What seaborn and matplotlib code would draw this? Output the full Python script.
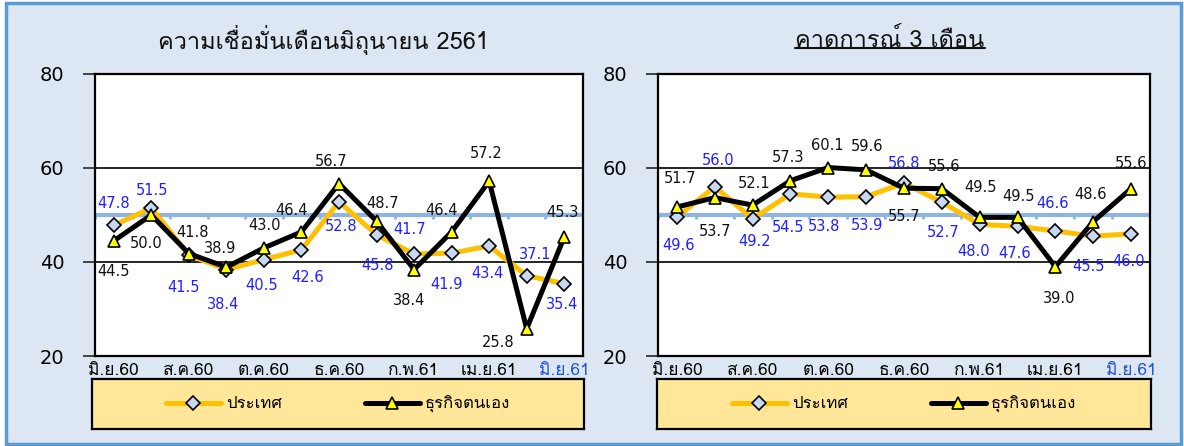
import matplotlib
matplotlib.use("Agg")
import matplotlib.pyplot as plt
import seaborn as sns
import pandas as pd
import numpy as np
from matplotlib import font_manager
from matplotlib.ft2font import FT2Font
from matplotlib.patches import Rectangle
from matplotlib.lines import Line2D

# data
months = ["มิ.ย.60", "ก.ค.60", "ส.ค.60", "ก.ย.60", "ต.ค.60", "พ.ย.60", "ธ.ค.60",
          "ม.ค.61", "ก.พ.61", "มี.ค.61", "เม.ย.61", "พ.ค.61", "มิ.ย.61"]
series_names = ["ประเทศ", "ธุรกิจตนเอง"]
titles = ["ความเชื่อมั่นเดือนมิถุนายน 2561", "คาดการณ์ 3 เดือน"]

now_country = [47.8, 51.5, 41.5, 38.4, 40.5, 42.6, 52.8, 45.8, 41.7, 41.9, 43.4, 37.1, 35.4]
now_business = [44.5, 50.0, 41.8, 38.9, 43.0, 46.4, 56.7, 48.7, 38.4, 46.4, 57.2, 25.8, 45.3]
fut_country = [49.6, 56.0, 49.2, 54.5, 53.8, 53.9, 56.8, 52.7, 48.0, 47.6, 46.6, 45.5, 46.0]
fut_business = [51.7, 53.7, 52.1, 57.3, 60.1, 59.6, 55.7, 55.6, 49.5, 49.5, 39.0, 48.6, 55.6]

# label offsets in pixels (x, y up)
now_country_off = [(0, 22), (1, 17), (-5, -33), (-3, -35), (-2, -26), (6, -28), (2, -25),
                   (1, -31), (-4, 25), (-5, -31), (-2, -27), (8, 21), (-2, -21)]
now_business_off = [(0, -31), (-5, -29), (4, 21), (-6, 19), (1, 22), (-10, 21), (-8, 22),
                    (6, 18), (-5, -31), (-10, 21), (-3, 28), (-29, -14), (-2, 25)]
fut_country_off = [(2, -29), (3, 26), (2, -23), (-2, -34), (-4, -29), (1, -29), (0, 20),
                   (1, -30), (-6, -27), (-3, -27), (-3, 27), (-5, -30), (-2, -28)]
fut_business_off = [(3, 29), (0, -34), (2, 22), (-2, 23), (-1, 22), (1, 23), (0, -28),
                    (2, 22), (1, 30), (1, 21), (4, -32), (-3, 27), (0, 25)]


def thai_font():
    for f in font_manager.fontManager.ttflist:
        try:
            if 0x0E01 in FT2Font(f.fname).get_charmap():
                return f.name
        except Exception:
            pass
    return "DejaVu Sans"


sns.set_theme(style="white")
thai = thai_font()
plt.rcParams["font.family"] = ["DejaVu Sans"]
plt.rcParams["text.color"] = "black"
thai_fam = [thai, "DejaVu Sans"]

BG = "#DDE7F3"
ORANGE = "#FFC000"
DIAMOND = "#C6D9F1"
BLUE_TXT = "#2020FF"
REF = "#8DB4E2"

fig = plt.figure(figsize=(11.84, 4.46), dpi=100)
fig.patch.set_facecolor("white")
fig.patches.append(Rectangle((6 / 1184, 2 / 446), 1175 / 1184, 441 / 446, transform=fig.transFigure,
                             facecolor=BG, edgecolor="#5B9BD5", lw=2.5, zorder=-10))

panels = [
    (now_country, now_business, now_country_off, now_business_off, 95, 583, 92, 323),
    (fut_country, fut_business, fut_country_off, fut_business_off, 658, 1150, 657, 890),
]

for i, (country, business, c_off, b_off, x0, x1, lx0, tx) in enumerate(panels):
    ax = fig.add_axes([x0 / 1184, 1 - 356 / 446, (x1 - x0) / 1184, 282 / 446])
    ax.set_facecolor("white")
    ax.set_zorder(2)
    df = pd.DataFrame({"idx": np.arange(len(months)), "country": country, "business": business})

    ax.axhline(50, color=REF, lw=3, zorder=1)
    ax.vlines(np.arange(len(months) + 1) - 0.5, 49.2, 50, color=REF, lw=2, zorder=1)
    for g in [40, 60]:
        ax.axhline(g, color="black", lw=1.2, zorder=0.5)

    sns.lineplot(data=df, x="idx", y="country", ax=ax, color=ORANGE, lw=3.6, marker="D",
                 markersize=7.5, markerfacecolor=DIAMOND, markeredgecolor="black",
                 markeredgewidth=1.2, label=series_names[0], zorder=3)
    sns.lineplot(data=df, x="idx", y="business", ax=ax, color="black", lw=3.6, marker="^",
                 markersize=9, markerfacecolor="#FFFF00", markeredgecolor="black",
                 markeredgewidth=1.2, label=series_names[1], zorder=4)

    for j in range(len(months)):
        ax.annotate(f"{country[j]:.1f}", (j, country[j]), xytext=c_off[j], textcoords="offset pixels",
                    ha="center", va="center", fontsize=10.5, color=BLUE_TXT, zorder=6)
        ax.annotate(f"{business[j]:.1f}", (j, business[j]), xytext=b_off[j], textcoords="offset pixels",
                    ha="center", va="center", fontsize=10.5, color="#111111", zorder=6)

    ax.set_xlim(-0.5, len(months) - 0.5)
    ax.set_ylim(20, 80)
    ax.set_yticks([20, 40, 60, 80])
    ax.set_xticks(np.arange(0, len(months), 2))
    ax.set_xticklabels(months[::2], family=thai_fam, fontsize=12.5)
    ax.tick_params(axis="y", left=True, length=9, width=1.2, pad=13, labelsize=14,
                   labelcolor="black")
    ax.tick_params(axis="x", bottom=False, pad=-1, labelcolor="black")
    ax.get_xticklabels()[-1].set_color("#2255DD")
    ax.set_xlabel("")
    ax.set_ylabel("")
    for s in ax.spines.values():
        s.set_visible(True)
        s.set_color("black")
        s.set_linewidth(1.6)

    handles, labels = ax.get_legend_handles_labels()
    ax.get_legend().remove()

    lax = fig.add_axes([lx0 / 1184, 1 - 429 / 446, (x1 + 1 - lx0) / 1184, 50 / 446])
    lax.set_zorder(1)
    lax.set_facecolor("#FFE699")
    lax.set_xticks([])
    lax.set_yticks([])
    for s in lax.spines.values():
        s.set_visible(True)
        s.set_color("black")
        s.set_linewidth(1.6)
    lax.legend(handles, labels, loc="center", ncol=2, frameon=False, handlelength=3.3,
               handletextpad=0.3, columnspacing=5.0, prop={"family": thai_fam, "size": 12})

    t = fig.text(tx / 1184, 1 - 40 / 446, titles[i], ha="center", va="center",
                 family=thai_fam, fontsize=17, color="#111111")
    if i == 1:
        fig.canvas.draw()
        bb = t.get_window_extent()
        fig.add_artist(Line2D([bb.x0 / 1184, bb.x1 / 1184], [1 - 48 / 446, 1 - 48 / 446],
                              transform=fig.transFigure, color="#111111", lw=1.5))

fig.savefig("out.png", dpi=100, facecolor=fig.get_facecolor())
